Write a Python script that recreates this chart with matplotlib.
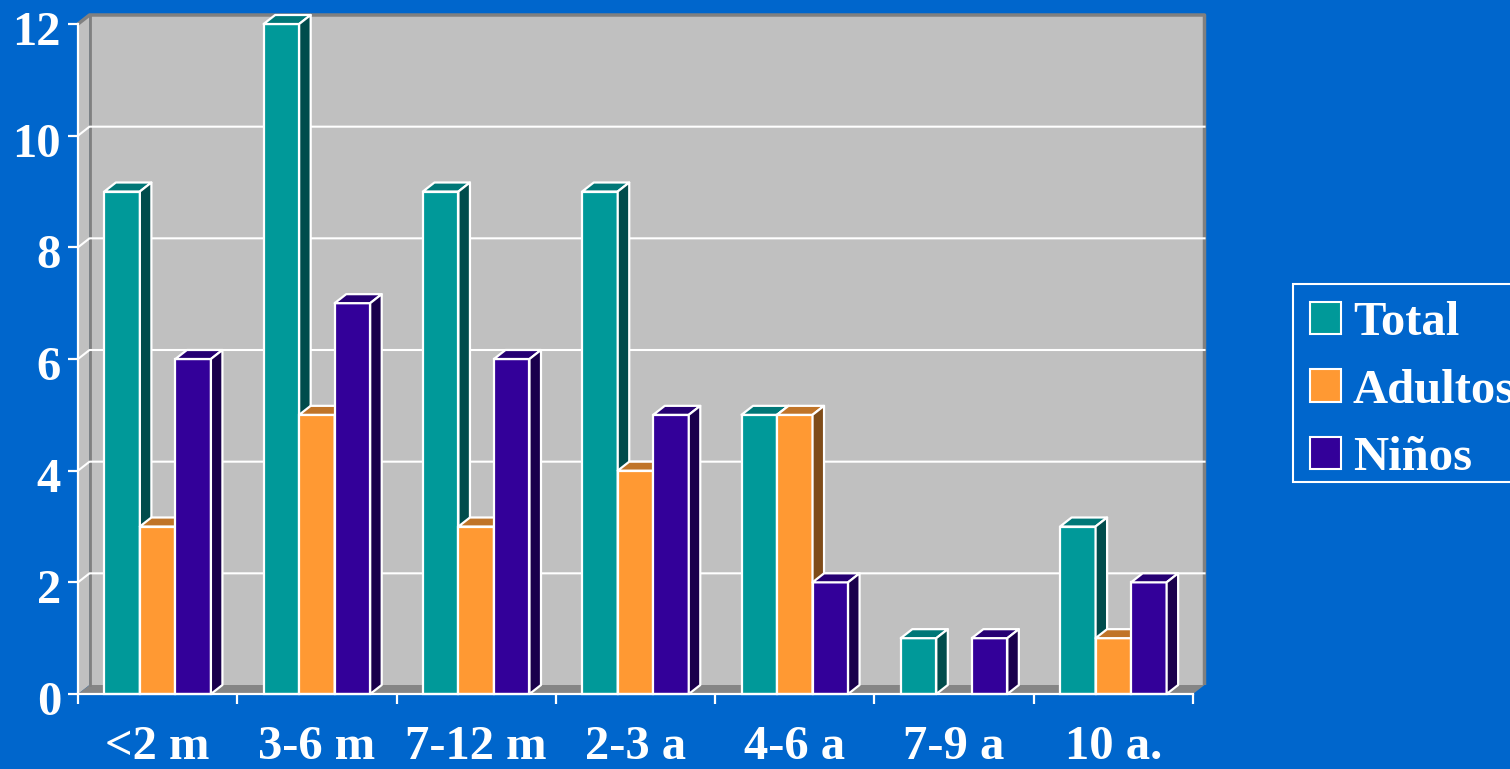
import matplotlib
matplotlib.use('Agg')
import matplotlib.pyplot as plt
from matplotlib.patches import Polygon, Patch, Rectangle
from matplotlib.collections import PolyCollection
from matplotlib.transforms import ScaledTranslation
from matplotlib.font_manager import FontProperties

categories = ['<2 m', '3-6 m', '7-12 m', '2-3 a', '4-6 a', '7-9 a', '10 a.']
series_names = ['Total', 'Adultos', 'Niños']
total = [9, 12, 9, 9, 5, 1, 3]
adultos = [3, 5, 3, 4, 5, 0, 1]
ninos = [6, 7, 6, 5, 2, 1, 2]
y_ticks = [0, 2, 4, 6, 8, 10, 12]

face_colors = ['#009999', '#FF9933', '#330099']
top_colors = ['#007777', '#C07428', '#260073']
side_colors = ['#004C4C', '#7F4C19', '#1A004C']
BG = '#0066CC'
WALL = '#C0C0C0'
FLOOR = '#858585'
EDGE = '#808080'

W, H = 1510, 769
fig = plt.figure(figsize=(W / 100, H / 100), dpi=100, facecolor=BG)
ax = fig.add_axes([78 / W, (H - 694) / H, (1193 - 78) / W, (694 - 24) / H])
ncat = len(categories)
ymax = 12
ax.set_xlim(0, ncat)
ax.set_ylim(0, ymax)
ax.patch.set_visible(False)

# depth offset (in data units)
px_x = (1193 - 78) / ncat
px_y = (694 - 24) / ymax
DX = 11.5 / px_x
DY = 9.0 / px_y

# walls and floor
back = Polygon([(DX, DY), (ncat + DX, DY), (ncat + DX, ymax + DY), (DX, ymax + DY)],
               closed=True, facecolor=WALL, edgecolor='none', zorder=0, clip_on=False)
left = Polygon([(0, 0), (DX, DY), (DX, ymax + DY), (0, ymax)],
               closed=True, facecolor=WALL, edgecolor='none', zorder=0, clip_on=False)
floor = Polygon([(0, 0), (ncat, 0), (ncat + DX, DY), (DX, DY)],
                closed=True, facecolor=FLOOR, edgecolor='none', zorder=1, clip_on=False)
for p in (back, left, floor):
    ax.add_patch(p)
# wall edges
ax.plot([0, DX, ncat + DX, ncat + DX], [ymax, ymax + DY, ymax + DY, DY],
        color=EDGE, lw=2.5, zorder=1, clip_on=False, solid_capstyle='butt')
ax.plot([DX, DX], [DY, ymax + DY], color=EDGE, lw=2, zorder=1, clip_on=False)

# gridlines on left and back walls
for v in y_ticks[1:-1]:
    ax.plot([0, DX, ncat + DX], [v, v + DY, v + DY], color='white', lw=1.5,
            zorder=2, clip_on=False)

# bars
series = [total, adultos, ninos]
bw = 0.223
for j, vals in enumerate(series):
    xs, hs = [], []
    tops, sides = [], []
    for i, v in enumerate(vals):
        if v <= 0:
            continue
        x0 = i + 0.5 + (j - 1.5) * bw
        x1 = x0 + bw
        xs.append(x0)
        hs.append(v)
        tops.append([(x0, v), (x1, v), (x1 + DX, v + DY), (x0 + DX, v + DY)])
        sides.append([(x1, 0), (x1 + DX, DY), (x1 + DX, v + DY), (x1, v)])
    ax.bar(xs, hs, width=bw, align='edge', color=face_colors[j], edgecolor='white',
           linewidth=1.6, zorder=10 + 3 * j, clip_on=False, label=series_names[j])
    ax.add_collection(PolyCollection(tops, facecolors=top_colors[j], edgecolors='white',
                                     linewidths=1.6, zorder=11 + 3 * j, clip_on=False))
    ax.add_collection(PolyCollection(sides, facecolors=side_colors[j], edgecolors='white',
                                     linewidths=1.6, zorder=12 + 3 * j, clip_on=False))

# axes, ticks
font = FontProperties(family='Liberation Serif', weight='bold', size=35)
for s in ('top', 'right'):
    ax.spines[s].set_visible(False)
for s in ('left', 'bottom'):
    ax.spines[s].set_color('white')
    ax.spines[s].set_linewidth(1.6)
    ax.spines[s].set_zorder(30)

ax.set_yticks(y_ticks)
ax.set_yticklabels([str(t) for t in y_ticks])
ax.tick_params(axis='y', direction='out', length=7.2, width=1.6, color='white',
               labelcolor='white', pad=5)
for lab in ax.get_yticklabels():
    lab.set_fontproperties(font)
    lab.set_transform(lab.get_transform() + ScaledTranslation(0, -4 / 100, fig.dpi_scale_trans))

ax.set_xticks(range(ncat + 1))
ax.set_xticklabels([])
ax.set_xticks([i + 0.5 for i in range(ncat)], minor=True)
ax.set_xticklabels(categories, minor=True)
ax.tick_params(axis='x', which='major', direction='out', length=7.2, width=1.6, color='white')
ax.tick_params(axis='x', which='minor', length=0, labelcolor='white', pad=22)
for lab in ax.get_xticklabels(minor=True):
    lab.set_fontproperties(font)

# legend (frame drawn separately so it runs off the right edge like the original)
box = Rectangle((1293 / W, 1 - 482 / H), 240 / W, (482 - 284) / H,
                transform=fig.transFigure, facecolor=BG, edgecolor='white',
                linewidth=1.5, zorder=0)
fig.add_artist(box)
handles = [Patch(facecolor=c, edgecolor='white', linewidth=1.5) for c in face_colors]
leg = fig.legend(handles, series_names, loc='upper left',
                 bbox_to_anchor=(1293 / W, 1 - 284 / H), bbox_transform=fig.transFigure,
                 borderaxespad=0, frameon=False, prop=font, labelcolor='white',
                 handlelength=0.64, handleheight=0.66, handletextpad=0.24,
                 labelspacing=0.485, borderpad=0.35)

fig.savefig('out.png', dpi=100, facecolor=BG)
